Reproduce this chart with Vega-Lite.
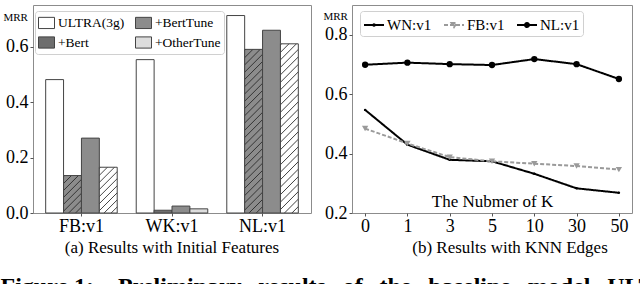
{
  "$schema": "https://vega.github.io/schema/vega-lite/v6.json",
  "padding": {"left": 0, "top": 4, "right": 5, "bottom": 5},
  "background": "white",
  "config": {
    "font": "Liberation Serif",
    "view": {"stroke": "#8c8c8c", "strokeWidth": 1},
    "axis": {"domain": false, "grid": false, "tickColor": "#555", "tickSize": 3, "labelColor": "black", "labelFont": "Liberation Serif", "labelFontSize": 18, "titleFont": "Liberation Serif", "titleColor": "black", "titleFontWeight": "normal"},
    "legend": {"labelFont": "Liberation Serif"},
    "title": {"font": "Liberation Serif", "fontWeight": "normal", "fontSize": 17, "color": "black"}
  },
  "title": {"text": "Figure 1:\u2002\u2002Preliminary\u2002\u2009results\u2002\u2009of\u2002\u2009the\u2002\u2009baseline\u2002\u2009model\u2002\u2009ULTRA", "orient": "bottom", "anchor": "start", "fontWeight": "bold", "fontSize": 24, "dx": -2, "offset": 18, "frame": "bounds"},
  "spacing": 10,
  "hconcat": [
    {
      "width": 278,
      "height": 208,
      "title": {"text": "(a) Results with Initial Features", "orient": "bottom", "offset": 5},
      "data": {"values": [
        {"dataset": "FB:v1", "method": "ULTRA(3g)", "mrr": 0.481},
        {"dataset": "FB:v1", "method": "+Bert", "mrr": 0.135},
        {"dataset": "FB:v1", "method": "+BertTune", "mrr": 0.27},
        {"dataset": "FB:v1", "method": "+OtherTune", "mrr": 0.165},
        {"dataset": "WK:v1", "method": "ULTRA(3g)", "mrr": 0.553},
        {"dataset": "WK:v1", "method": "+Bert", "mrr": 0.01},
        {"dataset": "WK:v1", "method": "+BertTune", "mrr": 0.025},
        {"dataset": "WK:v1", "method": "+OtherTune", "mrr": 0.015},
        {"dataset": "NL:v1", "method": "ULTRA(3g)", "mrr": 0.712},
        {"dataset": "NL:v1", "method": "+Bert", "mrr": 0.59},
        {"dataset": "NL:v1", "method": "+BertTune", "mrr": 0.659},
        {"dataset": "NL:v1", "method": "+OtherTune", "mrr": 0.61}
      ]},
      "mark": {"type": "bar", "stroke": "#444", "strokeWidth": 1},
      "encoding": {
        "x": {"field": "dataset", "type": "nominal", "sort": ["FB:v1", "WK:v1", "NL:v1"], "scale": {"paddingInner": 0.21, "paddingOuter": 0.14}, "axis": {"title": null, "labelAngle": 0, "labelPadding": 1}},
        "xOffset": {"field": "method", "type": "nominal", "sort": ["ULTRA(3g)", "+Bert", "+BertTune", "+OtherTune"], "scale": {"paddingInner": 0, "paddingOuter": 0}},
        "y": {"field": "mrr", "type": "quantitative", "scale": {"domain": [0, 0.75], "nice": false}, "axis": {"values": [0, 0.2, 0.4, 0.6], "format": ".1f", "title": "MRR", "titleAngle": 0, "titleFontSize": 11, "titleAlign": "left", "titleBaseline": "middle", "titleX": -30, "titleY": 12, "labelPadding": 2}},
        "fill": {
          "condition": [
            {"test": "datum.dataset === 'FB:v1' && datum.method === '+Bert'", "value": {"gradient": "linear", "x1": 0, "y1": 0, "x2": 0.576, "y2": 1.203, "stops": [
              {"offset": 0, "color": "#8c8c8c"}, {"offset": 0.018, "color": "#333333"}, {"offset": 0.036, "color": "#8c8c8c"},
              {"offset": 0.125, "color": "#8c8c8c"}, {"offset": 0.143, "color": "#333333"}, {"offset": 0.161, "color": "#8c8c8c"},
              {"offset": 0.25, "color": "#8c8c8c"}, {"offset": 0.268, "color": "#333333"}, {"offset": 0.286, "color": "#8c8c8c"},
              {"offset": 0.375, "color": "#8c8c8c"}, {"offset": 0.393, "color": "#333333"}, {"offset": 0.411, "color": "#8c8c8c"},
              {"offset": 0.5, "color": "#8c8c8c"}, {"offset": 0.518, "color": "#333333"}, {"offset": 0.536, "color": "#8c8c8c"},
              {"offset": 0.625, "color": "#8c8c8c"}, {"offset": 0.643, "color": "#333333"}, {"offset": 0.661, "color": "#8c8c8c"},
              {"offset": 0.75, "color": "#8c8c8c"}, {"offset": 0.768, "color": "#333333"}, {"offset": 0.786, "color": "#8c8c8c"},
              {"offset": 0.875, "color": "#8c8c8c"}, {"offset": 0.893, "color": "#333333"}, {"offset": 0.911, "color": "#8c8c8c"},
              {"offset": 1, "color": "#8c8c8c"}]}},
            {"test": "datum.dataset === 'NL:v1' && datum.method === '+Bert'", "value": {"gradient": "linear", "x1": 0, "y1": 0, "x2": 0.12, "y2": 1.096, "stops": [
              {"offset": 0, "color": "#8c8c8c"}, {"offset": 0.0055, "color": "#333333"}, {"offset": 0.011, "color": "#8c8c8c"},
              {"offset": 0.04, "color": "#8c8c8c"}, {"offset": 0.0455, "color": "#333333"}, {"offset": 0.051, "color": "#8c8c8c"},
              {"offset": 0.08, "color": "#8c8c8c"}, {"offset": 0.0855, "color": "#333333"}, {"offset": 0.091, "color": "#8c8c8c"},
              {"offset": 0.12, "color": "#8c8c8c"}, {"offset": 0.1255, "color": "#333333"}, {"offset": 0.131, "color": "#8c8c8c"},
              {"offset": 0.16, "color": "#8c8c8c"}, {"offset": 0.1655, "color": "#333333"}, {"offset": 0.171, "color": "#8c8c8c"},
              {"offset": 0.2, "color": "#8c8c8c"}, {"offset": 0.2055, "color": "#333333"}, {"offset": 0.211, "color": "#8c8c8c"},
              {"offset": 0.24, "color": "#8c8c8c"}, {"offset": 0.2455, "color": "#333333"}, {"offset": 0.251, "color": "#8c8c8c"},
              {"offset": 0.28, "color": "#8c8c8c"}, {"offset": 0.2855, "color": "#333333"}, {"offset": 0.291, "color": "#8c8c8c"},
              {"offset": 0.32, "color": "#8c8c8c"}, {"offset": 0.3255, "color": "#333333"}, {"offset": 0.331, "color": "#8c8c8c"},
              {"offset": 0.36, "color": "#8c8c8c"}, {"offset": 0.3655, "color": "#333333"}, {"offset": 0.371, "color": "#8c8c8c"},
              {"offset": 0.4, "color": "#8c8c8c"}, {"offset": 0.4055, "color": "#333333"}, {"offset": 0.411, "color": "#8c8c8c"},
              {"offset": 0.44, "color": "#8c8c8c"}, {"offset": 0.4455, "color": "#333333"}, {"offset": 0.451, "color": "#8c8c8c"},
              {"offset": 0.48, "color": "#8c8c8c"}, {"offset": 0.4855, "color": "#333333"}, {"offset": 0.491, "color": "#8c8c8c"},
              {"offset": 0.52, "color": "#8c8c8c"}, {"offset": 0.5255, "color": "#333333"}, {"offset": 0.531, "color": "#8c8c8c"},
              {"offset": 0.56, "color": "#8c8c8c"}, {"offset": 0.5655, "color": "#333333"}, {"offset": 0.571, "color": "#8c8c8c"},
              {"offset": 0.6, "color": "#8c8c8c"}, {"offset": 0.6055, "color": "#333333"}, {"offset": 0.611, "color": "#8c8c8c"},
              {"offset": 0.64, "color": "#8c8c8c"}, {"offset": 0.6455, "color": "#333333"}, {"offset": 0.651, "color": "#8c8c8c"},
              {"offset": 0.68, "color": "#8c8c8c"}, {"offset": 0.6855, "color": "#333333"}, {"offset": 0.691, "color": "#8c8c8c"},
              {"offset": 0.72, "color": "#8c8c8c"}, {"offset": 0.7255, "color": "#333333"}, {"offset": 0.731, "color": "#8c8c8c"},
              {"offset": 0.76, "color": "#8c8c8c"}, {"offset": 0.7655, "color": "#333333"}, {"offset": 0.771, "color": "#8c8c8c"},
              {"offset": 0.8, "color": "#8c8c8c"}, {"offset": 0.8055, "color": "#333333"}, {"offset": 0.811, "color": "#8c8c8c"},
              {"offset": 0.84, "color": "#8c8c8c"}, {"offset": 0.8455, "color": "#333333"}, {"offset": 0.851, "color": "#8c8c8c"},
              {"offset": 0.88, "color": "#8c8c8c"}, {"offset": 0.8855, "color": "#333333"}, {"offset": 0.891, "color": "#8c8c8c"},
              {"offset": 0.92, "color": "#8c8c8c"}, {"offset": 0.9255, "color": "#333333"}, {"offset": 0.931, "color": "#8c8c8c"},
              {"offset": 0.96, "color": "#8c8c8c"}, {"offset": 0.9655, "color": "#333333"}, {"offset": 0.971, "color": "#8c8c8c"},
              {"offset": 1, "color": "#8c8c8c"}]}},
            {"test": "datum.dataset === 'FB:v1' && datum.method === '+OtherTune'", "value": {"gradient": "linear", "x1": 0, "y1": 0, "x2": 0.472, "y2": 1.207, "stops": [
              {"offset": 0, "color": "#ffffff"}, {"offset": 0.0155, "color": "#444444"}, {"offset": 0.031, "color": "#ffffff"},
              {"offset": 0.1111, "color": "#ffffff"}, {"offset": 0.1266, "color": "#444444"}, {"offset": 0.1421, "color": "#ffffff"},
              {"offset": 0.2222, "color": "#ffffff"}, {"offset": 0.2377, "color": "#444444"}, {"offset": 0.2532, "color": "#ffffff"},
              {"offset": 0.3333, "color": "#ffffff"}, {"offset": 0.3488, "color": "#444444"}, {"offset": 0.3643, "color": "#ffffff"},
              {"offset": 0.4444, "color": "#ffffff"}, {"offset": 0.4599, "color": "#444444"}, {"offset": 0.4754, "color": "#ffffff"},
              {"offset": 0.5556, "color": "#ffffff"}, {"offset": 0.5711, "color": "#444444"}, {"offset": 0.5866, "color": "#ffffff"},
              {"offset": 0.6667, "color": "#ffffff"}, {"offset": 0.6822, "color": "#444444"}, {"offset": 0.6977, "color": "#ffffff"},
              {"offset": 0.7778, "color": "#ffffff"}, {"offset": 0.7933, "color": "#444444"}, {"offset": 0.8088, "color": "#ffffff"},
              {"offset": 0.8889, "color": "#ffffff"}, {"offset": 0.9044, "color": "#444444"}, {"offset": 0.9199, "color": "#ffffff"},
              {"offset": 1, "color": "#ffffff"}]}},
            {"test": "datum.dataset === 'NL:v1' && datum.method === '+OtherTune'", "value": {"gradient": "linear", "x1": 0, "y1": 0, "x2": 0.116, "y2": 1.094, "stops": [
              {"offset": 0, "color": "#ffffff"}, {"offset": 0.0055, "color": "#444444"}, {"offset": 0.011, "color": "#ffffff"},
              {"offset": 0.04, "color": "#ffffff"}, {"offset": 0.0455, "color": "#444444"}, {"offset": 0.051, "color": "#ffffff"},
              {"offset": 0.08, "color": "#ffffff"}, {"offset": 0.0855, "color": "#444444"}, {"offset": 0.091, "color": "#ffffff"},
              {"offset": 0.12, "color": "#ffffff"}, {"offset": 0.1255, "color": "#444444"}, {"offset": 0.131, "color": "#ffffff"},
              {"offset": 0.16, "color": "#ffffff"}, {"offset": 0.1655, "color": "#444444"}, {"offset": 0.171, "color": "#ffffff"},
              {"offset": 0.2, "color": "#ffffff"}, {"offset": 0.2055, "color": "#444444"}, {"offset": 0.211, "color": "#ffffff"},
              {"offset": 0.24, "color": "#ffffff"}, {"offset": 0.2455, "color": "#444444"}, {"offset": 0.251, "color": "#ffffff"},
              {"offset": 0.28, "color": "#ffffff"}, {"offset": 0.2855, "color": "#444444"}, {"offset": 0.291, "color": "#ffffff"},
              {"offset": 0.32, "color": "#ffffff"}, {"offset": 0.3255, "color": "#444444"}, {"offset": 0.331, "color": "#ffffff"},
              {"offset": 0.36, "color": "#ffffff"}, {"offset": 0.3655, "color": "#444444"}, {"offset": 0.371, "color": "#ffffff"},
              {"offset": 0.4, "color": "#ffffff"}, {"offset": 0.4055, "color": "#444444"}, {"offset": 0.411, "color": "#ffffff"},
              {"offset": 0.44, "color": "#ffffff"}, {"offset": 0.4455, "color": "#444444"}, {"offset": 0.451, "color": "#ffffff"},
              {"offset": 0.48, "color": "#ffffff"}, {"offset": 0.4855, "color": "#444444"}, {"offset": 0.491, "color": "#ffffff"},
              {"offset": 0.52, "color": "#ffffff"}, {"offset": 0.5255, "color": "#444444"}, {"offset": 0.531, "color": "#ffffff"},
              {"offset": 0.56, "color": "#ffffff"}, {"offset": 0.5655, "color": "#444444"}, {"offset": 0.571, "color": "#ffffff"},
              {"offset": 0.6, "color": "#ffffff"}, {"offset": 0.6055, "color": "#444444"}, {"offset": 0.611, "color": "#ffffff"},
              {"offset": 0.64, "color": "#ffffff"}, {"offset": 0.6455, "color": "#444444"}, {"offset": 0.651, "color": "#ffffff"},
              {"offset": 0.68, "color": "#ffffff"}, {"offset": 0.6855, "color": "#444444"}, {"offset": 0.691, "color": "#ffffff"},
              {"offset": 0.72, "color": "#ffffff"}, {"offset": 0.7255, "color": "#444444"}, {"offset": 0.731, "color": "#ffffff"},
              {"offset": 0.76, "color": "#ffffff"}, {"offset": 0.7655, "color": "#444444"}, {"offset": 0.771, "color": "#ffffff"},
              {"offset": 0.8, "color": "#ffffff"}, {"offset": 0.8055, "color": "#444444"}, {"offset": 0.811, "color": "#ffffff"},
              {"offset": 0.84, "color": "#ffffff"}, {"offset": 0.8455, "color": "#444444"}, {"offset": 0.851, "color": "#ffffff"},
              {"offset": 0.88, "color": "#ffffff"}, {"offset": 0.8855, "color": "#444444"}, {"offset": 0.891, "color": "#ffffff"},
              {"offset": 0.92, "color": "#ffffff"}, {"offset": 0.9255, "color": "#444444"}, {"offset": 0.931, "color": "#ffffff"},
              {"offset": 0.96, "color": "#ffffff"}, {"offset": 0.9655, "color": "#444444"}, {"offset": 0.971, "color": "#ffffff"},
              {"offset": 1, "color": "#ffffff"}]}}
          ],
          "field": "method", "type": "nominal", "scale": {"domain": ["ULTRA(3g)", "+BertTune", "+Bert", "+OtherTune"], "range": ["#ffffff", "#8c8c8c", "#6e6e6e", "#dddddd"]},
          "legend": {"title": null, "orient": "none", "legendX": 2, "legendY": 6, "columns": 2, "direction": "horizontal", "symbolType": "M-1,-0.7H1V0.7H-1Z", "symbolSize": 256, "symbolStrokeColor": "#444", "symbolStrokeWidth": 1, "labelFontSize": 13.5, "labelFont": "Liberation Serif", "labelColor": "black", "columnPadding": 8, "rowPadding": 3, "padding": 3, "strokeColor": "#d0d0d0", "fillColor": "white", "cornerRadius": 3, "labelOffset": 3}
        }
      }
    },
    {
      "width": 280,
      "height": 208,
      "title": {"text": "(b) Results with KNN Edges", "orient": "bottom", "offset": 5, "dx": 18},
      "data": {"values": [
        {"series": "WN:v1", "K": "0", "mrr": 0.547},
        {"series": "WN:v1", "K": "1", "mrr": 0.43},
        {"series": "WN:v1", "K": "3", "mrr": 0.379},
        {"series": "WN:v1", "K": "5", "mrr": 0.374},
        {"series": "WN:v1", "K": "10", "mrr": 0.332},
        {"series": "WN:v1", "K": "30", "mrr": 0.283},
        {"series": "WN:v1", "K": "50", "mrr": 0.268},
        {"series": "FB:v1", "K": "0", "mrr": 0.484},
        {"series": "FB:v1", "K": "1", "mrr": 0.434},
        {"series": "FB:v1", "K": "3", "mrr": 0.388},
        {"series": "FB:v1", "K": "5", "mrr": 0.374},
        {"series": "FB:v1", "K": "10", "mrr": 0.366},
        {"series": "FB:v1", "K": "30", "mrr": 0.358},
        {"series": "FB:v1", "K": "50", "mrr": 0.346},
        {"series": "NL:v1", "K": "0", "mrr": 0.699},
        {"series": "NL:v1", "K": "1", "mrr": 0.706},
        {"series": "NL:v1", "K": "3", "mrr": 0.701},
        {"series": "NL:v1", "K": "5", "mrr": 0.698},
        {"series": "NL:v1", "K": "10", "mrr": 0.718},
        {"series": "NL:v1", "K": "30", "mrr": 0.701},
        {"series": "NL:v1", "K": "50", "mrr": 0.651}
      ]},
      "encoding": {
        "x": {"field": "K", "type": "ordinal", "sort": ["0", "1", "3", "5", "10", "30", "50"], "scale": {"type": "point", "padding": 0.31}, "axis": {"title": "The Nubmer of K", "titleFontSize": 17, "titleY": -12, "titleBaseline": "middle", "labelAngle": 0, "labelPadding": 1}},
        "y": {"field": "mrr", "type": "quantitative", "scale": {"domain": [0.2, 0.9], "nice": false}, "axis": {"values": [0.2, 0.4, 0.6, 0.8], "format": ".1f", "title": "MRR", "titleAngle": 0, "titleFontSize": 11, "titleAlign": "left", "titleBaseline": "middle", "titleX": -29, "titleY": 11, "labelPadding": 2}}
      },
      "layer": [
        {
          "mark": {"type": "line", "strokeWidth": 2},
          "encoding": {
            "color": {"field": "series", "type": "nominal", "scale": {"domain": ["WN:v1", "FB:v1", "NL:v1"], "range": ["#000000", "#9a9a9a", "#000000"]},
              "legend": {"title": null, "orient": "none", "legendX": 327, "legendY": 6, "direction": "horizontal", "symbolType": "stroke", "symbolSize": 400, "symbolStrokeWidth": 2, "labelFontSize": 15, "labelFont": "Liberation Serif", "labelColor": "black", "columnPadding": 8, "padding": 3, "strokeColor": "#d0d0d0", "fillColor": "white", "cornerRadius": 3, "labelOffset": 2,
                "encode": {"symbols": {"update": {
                  "shape": {"signal": "datum.value === 'NL:v1' ? 'M-1,0H1M0.2,0A0.2,0.2 0 1,1 -0.2,0A0.2,0.2 0 1,1 0.2,0Z' : datum.value === 'FB:v1' ? 'M-1,0H1M-0.25,-0.2H0.25L0,0.2Z' : 'M-1,0H1M0.08,0A0.08,0.08 0 1,1 -0.08,0A0.08,0.08 0 1,1 0.08,0Z'"}
                }}}}},
            "strokeDash": {"field": "series", "type": "nominal", "scale": {"domain": ["WN:v1", "FB:v1", "NL:v1"], "range": [[1, 0], [4, 2], [1, 0]]}}
          }
        },
        {
          "transform": [{"filter": "datum.series === 'WN:v1'"}],
          "mark": {"type": "point", "filled": true, "opacity": 1, "shape": "circle", "size": 6, "color": "#000000"}
        },
        {
          "transform": [{"filter": "datum.series === 'FB:v1'"}],
          "mark": {"type": "point", "filled": true, "opacity": 1, "shape": "triangle-down", "size": 40, "color": "#9a9a9a"}
        },
        {
          "transform": [{"filter": "datum.series === 'NL:v1'"}],
          "mark": {"type": "point", "filled": true, "opacity": 1, "shape": "circle", "size": 40, "color": "#000000"}
        }
      ]
    }
  ]
}
